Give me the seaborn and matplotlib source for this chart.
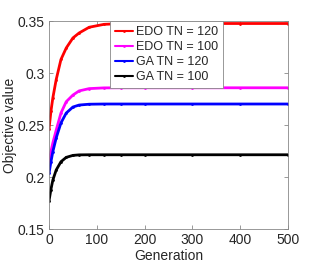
import numpy as np
import pandas as pd
import matplotlib
matplotlib.use("Agg")
import matplotlib.pyplot as plt
import seaborn as sns

generations = [0, 4, 8, 15, 25, 36, 50, 63, 84, 115, 150, 200, 300, 400, 500]
edo_120 = [0.246, 0.263, 0.276, 0.2936, 0.313, 0.324, 0.3337, 0.3385, 0.344, 0.3468, 0.3475, 0.3476, 0.3476, 0.3476, 0.3476]
edo_100 = [0.2145, 0.2245, 0.2327, 0.245, 0.2615, 0.2724, 0.2788, 0.2828, 0.2850, 0.2857, 0.2858, 0.2858, 0.2858, 0.2858, 0.2858]
ga_120 = [0.2035, 0.2145, 0.2243, 0.2375, 0.252, 0.2615, 0.2673, 0.2692, 0.2700, 0.2702, 0.2702, 0.2702, 0.2702, 0.2702, 0.2702]
ga_100 = [0.177, 0.188, 0.197, 0.2067, 0.2147, 0.2189, 0.2208, 0.2213, 0.2214, 0.2214, 0.2214, 0.2214, 0.2214, 0.2214, 0.2214]

series_names = ["EDO TN = 120", "EDO TN = 100", "GA TN = 120", "GA TN = 100"]
series_values = [edo_120, edo_100, ga_120, ga_100]
colors = ["#ff0000", "#ff00ff", "#0000ff", "#000000"]

x_ticks = [0, 100, 200, 300, 400, 500]
y_ticks = [0.15, 0.2, 0.25, 0.3, 0.35]
y_tick_labels = ["0.15", "0.2", "0.25", "0.3", "0.35"]

rows = []
for name, vals in zip(series_names, series_values):
    for g, v in zip(generations, vals):
        rows.append({"Generation": g, "Objective value": v, "Series": name})
df = pd.DataFrame(rows)

sns.set_theme(style="white")
plt.rcParams["font.family"] = ["Liberation Sans", "DejaVu Sans"]

fig = plt.figure(figsize=(3.19, 2.66), dpi=100)
ax = fig.add_axes([0.1536, 0.139, 0.7492, 0.782])

sns.lineplot(data=df, x="Generation", y="Objective value", hue="Series",
             hue_order=series_names, palette=colors, linewidth=2.0,
             marker=".", markersize=4, markeredgewidth=0, ax=ax)

ax.set_xlim(0, 500)
ax.set_ylim(0.15, 0.35)
ax.set_xticks(x_ticks)
ax.set_xticklabels([str(t) for t in x_ticks])
ax.set_yticks(y_ticks)
ax.set_yticklabels(y_tick_labels)

ax.tick_params(direction="in", length=3, width=0.6, color="#888888",
               labelsize=10, labelcolor="#262626", top=True, right=True,
               bottom=True, left=True, pad=3)
for s in ax.spines.values():
    s.set_visible(True)
    s.set_color("#888888")
    s.set_linewidth(0.6)

ax.set_xlabel("Generation", fontsize=10, color="#262626", labelpad=1)
ax.set_ylabel("Objective value", fontsize=10, color="#262626")
ax.yaxis.set_label_coords(-0.135, 0.5)

leg = ax.legend(loc="upper right", bbox_to_anchor=(0.728, 1.0), borderaxespad=0,
                fontsize=9, frameon=True, fancybox=False, framealpha=1,
                edgecolor="#888888", handlelength=1.4, handletextpad=0.25,
                labelspacing=0.25, borderpad=0.4)
leg.get_frame().set_linewidth(0.6)
for line in leg.get_lines():
    line.set_linewidth(1.5)

fig.savefig("out.png", dpi=100)
